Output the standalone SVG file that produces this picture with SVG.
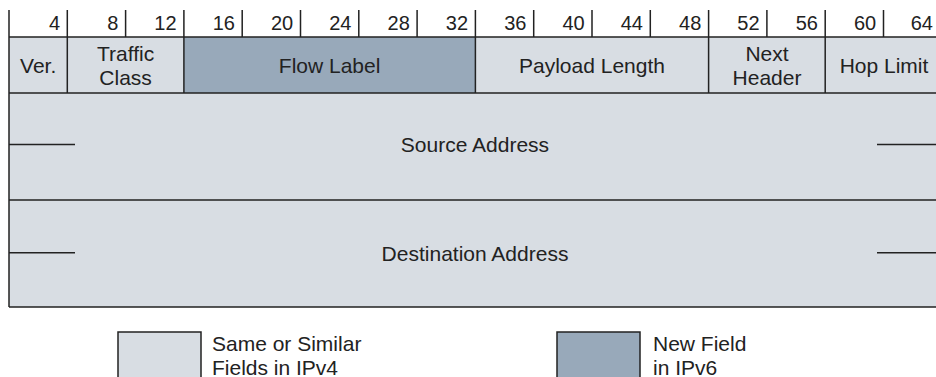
<svg xmlns="http://www.w3.org/2000/svg" width="936" height="377" viewBox="0 0 936 377">
<style>
text{font-family:"Liberation Sans",Arial,sans-serif;fill:#222;}
.lbl{font-size:21px;text-anchor:middle;}
.num{font-size:20px;text-anchor:end;}
.leg{font-size:21px;}
.ln{stroke:#222;stroke-width:1.5;fill:none;}
.light{fill:#d8dde3;}
.dark{fill:#98a9ba;}
</style>
<rect width="936" height="377" fill="#fff"/>
<g id="ruler">
<path class="ln" d="M9,10V37 M67.3,10V37 M125.6,10V37 M183.9,10V37 M242.2,10V37 M300.5,10V37 M358.8,10V37 M417.1,10V37 M475.4,10V37 M533.7,10V37 M592,10V37 M650.3,10V37 M708.6,10V37 M766.9,10V37 M825.2,10V37 M883.5,10V37"/>
<text class="num" x="60" y="30">4</text>
<text class="num" x="118.3" y="30">8</text>
<text class="num" x="176.6" y="30">12</text>
<text class="num" x="234.9" y="30">16</text>
<text class="num" x="293.2" y="30">20</text>
<text class="num" x="351.5" y="30">24</text>
<text class="num" x="409.8" y="30">28</text>
<text class="num" x="468.1" y="30">32</text>
<text class="num" x="526.4" y="30">36</text>
<text class="num" x="584.7" y="30">40</text>
<text class="num" x="643" y="30">44</text>
<text class="num" x="701.3" y="30">48</text>
<text class="num" x="759.6" y="30">52</text>
<text class="num" x="817.9" y="30">56</text>
<text class="num" x="876.2" y="30">60</text>
<text class="num" x="933" y="30">64</text>
</g>
<g id="ver">
<rect class="light" x="9" y="37" width="58.3" height="56"/>
<text class="lbl" x="38.2" y="73">Ver.</text>
</g>
<g id="traffic-class">
<rect class="light" x="67.3" y="37" width="116.6" height="56"/>
<text class="lbl" x="125.6" y="61">Traffic</text>
<text class="lbl" x="125.6" y="85">Class</text>
</g>
<g id="flow-label">
<rect class="dark" x="183.9" y="37" width="291.5" height="56"/>
<text class="lbl" x="329.6" y="73">Flow Label</text>
</g>
<g id="payload-length">
<rect class="light" x="475.4" y="37" width="233.2" height="56"/>
<text class="lbl" x="592" y="73">Payload Length</text>
</g>
<g id="next-header">
<rect class="light" x="708.6" y="37" width="116.6" height="56"/>
<text class="lbl" x="767" y="61">Next</text>
<text class="lbl" x="767" y="85">Header</text>
</g>
<g id="hop-limit">
<rect class="light" x="825.2" y="37" width="120" height="56"/>
<text class="lbl" x="884" y="73">Hop Limit</text>
</g>
<g id="source-address">
<rect class="light" x="9" y="93" width="940" height="107"/>
<path class="ln" d="M9,144.5H75 M877,144.5H936"/>
<text class="lbl" x="475" y="152">Source Address</text>
</g>
<g id="destination-address">
<rect class="light" x="9" y="200" width="940" height="107"/>
<path class="ln" d="M9,252.7H75 M877,252.7H936"/>
<text class="lbl" x="475" y="261">Destination Address</text>
</g>
<g id="grid">
<path class="ln" d="M9,37H936 M9,93H936 M9,200H936 M9,307H936 M9,37V307 M67.3,37V93 M183.9,37V93 M475.4,37V93 M708.6,37V93 M825.2,37V93"/>
</g>
<g id="legend-same">
<rect class="light ln" x="118" y="332" width="83" height="60"/>
<text class="leg" x="212" y="350.5">Same or Similar</text>
<text class="leg" x="212" y="374.5">Fields in IPv4</text>
</g>
<g id="legend-new">
<rect class="dark ln" x="557" y="332" width="83" height="60"/>
<text class="leg" x="653" y="350.5">New Field</text>
<text class="leg" x="653" y="374.5">in IPv6</text>
</g>
</svg>
